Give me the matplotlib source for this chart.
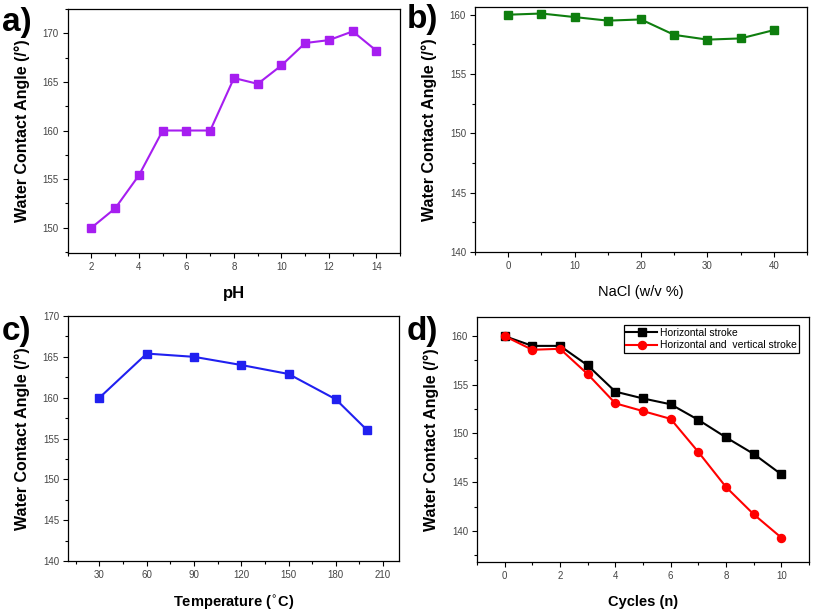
import matplotlib
matplotlib.use("Agg")
import matplotlib.pyplot as plt
from matplotlib.ticker import MultipleLocator

plt.rcParams['font.family'] = ['Liberation Sans', 'DejaVu Sans']

# Data
ph = [2, 3, 4, 5, 6, 7, 8, 9, 10, 11, 12, 13, 14]
wca_ph = [150.0, 152.0, 155.4, 160.0, 160.0, 160.0, 165.4, 164.8, 166.7, 169.0, 169.3, 170.2, 168.2]

nacl = [0, 5, 10, 15, 20, 25, 30, 35, 40]
wca_nacl = [160.0, 160.1, 159.8, 159.5, 159.6, 158.3, 157.9, 158.0, 158.7]

temp = [30, 60, 90, 120, 150, 180, 200]
wca_temp = [160.0, 165.4, 165.0, 164.0, 162.9, 159.8, 156.0]

cycles = [0, 1, 2, 3, 4, 5, 6, 7, 8, 9, 10]
wca_h = [160.0, 159.0, 159.0, 157.0, 154.3, 153.6, 153.0, 151.4, 149.6, 147.9, 145.8]
wca_hv = [160.0, 158.6, 158.7, 156.1, 153.1, 152.3, 151.5, 148.1, 144.5, 141.7, 139.3]
legend_labels = ["Horizontal stroke", "Horizontal and  vertical stroke"]

ylab = "Water Contact Angle (/°)"

fig = plt.figure(figsize=(8.13, 6.13), dpi=100)

def setup(ax, xlim, ylim, xmaj, xmin, ymaj, ymin, xlabel, xlsize=10.5):
    ax.set_xlim(*xlim)
    ax.set_ylim(*ylim)
    ax.xaxis.set_major_locator(MultipleLocator(xmaj))
    ax.xaxis.set_minor_locator(MultipleLocator(xmin))
    ax.yaxis.set_major_locator(MultipleLocator(ymaj))
    ax.yaxis.set_minor_locator(MultipleLocator(ymin))
    ax.tick_params(which='both', direction='out', top=False, right=False,
                   labelsize=7, labelcolor='#444444', width=0.8)
    ax.tick_params(which='major', length=3.5, pad=3)
    ax.tick_params(which='minor', length=2)
    for s in ax.spines.values():
        s.set_linewidth(0.9)
    ax.set_ylabel(ylab, fontsize=11.5, fontweight='bold', labelpad=9)
    ax.set_xlabel(xlabel, fontsize=xlsize, fontweight='bold', labelpad=10)

MS = 5.2
LW = 1.5

# a
ax1 = fig.add_axes([0.0833, 0.5873, 0.409, 0.398])
ax1.plot(ph, wca_ph, '-s', color='#A61EF0', ms=MS, lw=LW)
setup(ax1, (1, 15), (147.4, 172.5), 2, 1, 5, 2.5, "pH", xlsize=12)

# b
ax2 = fig.add_axes([0.5843, 0.5889, 0.4083, 0.3997])
ax2.plot(nacl, wca_nacl, '-s', color='#0E7E0E', ms=MS, lw=LW)
setup(ax2, (-5, 45), (140, 160.65), 10, 5, 5, 2.5, "NaCl (w/v %)")
ax2.xaxis.label.set_fontweight('normal')

# c
ax3 = fig.add_axes([0.0836, 0.0848, 0.407, 0.3997])
ax3.plot(temp, wca_temp, '-s', color='#2020F0', ms=MS, lw=LW)
setup(ax3, (10, 220), (140, 170), 30, 15, 5, 2.5, "Temperature ($^{\\circ}$C)")

# d
ax4 = fig.add_axes([0.5867, 0.0832, 0.4084, 0.4002])
ax4.plot(cycles, wca_h, '-s', color='black', ms=MS, lw=LW, label=legend_labels[0])
ax4.plot(cycles, wca_hv, '-o', color='#FF0000', ms=MS + 0.6, lw=LW, label=legend_labels[1])
setup(ax4, (-1, 11), (136.8, 162), 2, 1, 5, 2.5, "Cycles (n)")
leg = ax4.legend(loc='upper right', fontsize=7.5, frameon=True, fancybox=False,
                 edgecolor='black', framealpha=1, borderpad=0.25, labelspacing=0.25,
                 handlelength=3.0, handletextpad=0.2, borderaxespad=0.0,
                 bbox_to_anchor=(0.97, 0.965))
leg.get_frame().set_linewidth(0.9)

# panel labels
for lab, (x, y) in zip(["a)", "b)", "c)", "d)"],
                       [(0.002, 0.963), (0.500, 0.968), (0.002, 0.459), (0.500, 0.459)]):
    fig.text(x, y, lab, fontsize=24, fontweight='bold', ha='left', va='center')

fig.savefig("out.png", dpi=100)
